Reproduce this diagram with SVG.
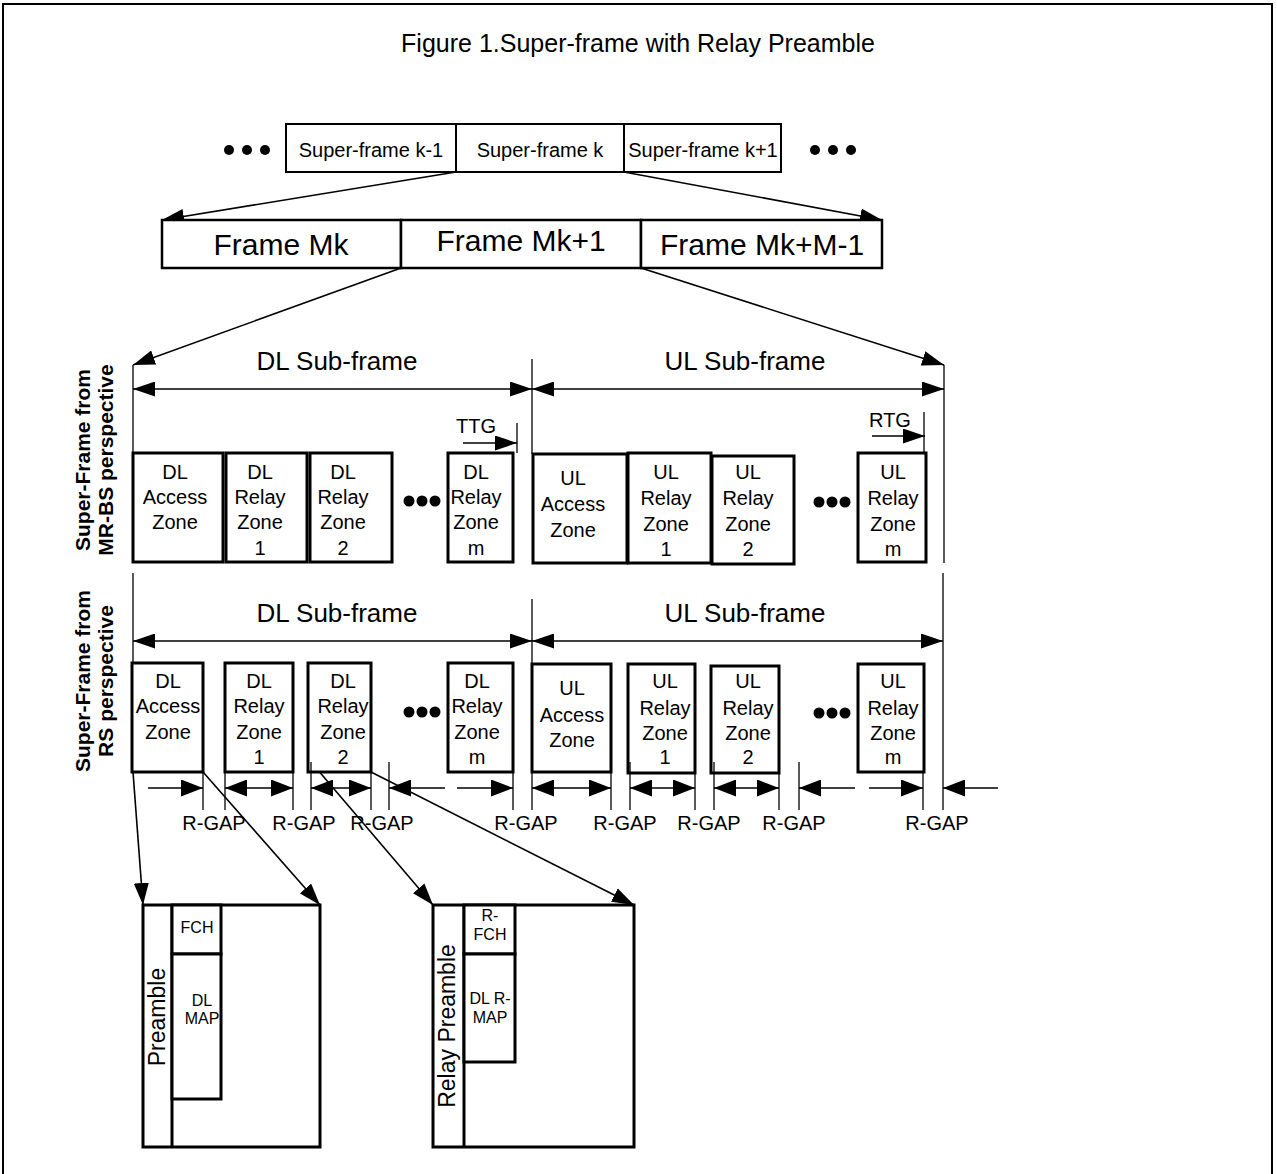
<svg xmlns="http://www.w3.org/2000/svg" width="1277" height="1174" viewBox="0 0 1277 1174">
<style>
text{font-family:"Liberation Sans",Arial,sans-serif;fill:#000}
.t20{font-size:20px;text-anchor:middle}
.t16{font-size:16px;text-anchor:middle}
.sub{font-size:26px;text-anchor:middle}
.frm{font-size:30px;text-anchor:middle}
.side{font-size:21px;font-weight:bold;text-anchor:middle}
.pre{font-size:23px;text-anchor:middle}
.sf{fill:#fff;stroke:#000;stroke-width:2}
.fr{fill:#fff;stroke:#000;stroke-width:2.5}
.zn{fill:#fff;stroke:#000;stroke-width:3}
.ln{fill:none;stroke:#000;stroke-width:1.3}
.dg{fill:none;stroke:#000;stroke-width:1.6}
.ar{marker-end:url(#a)}
.da{marker-start:url(#a);marker-end:url(#a)}
.ga{marker-end:url(#g)}
.gd{marker-start:url(#g);marker-end:url(#g)}
</style>
<defs>
<marker id="a" markerUnits="userSpaceOnUse" viewBox="0 0 22 15" markerWidth="22" markerHeight="15" refX="22" refY="7.5" orient="auto-start-reverse"><path d="M0,0 L22,7.5 L0,15z" fill="#000"/></marker>
<marker id="g" markerUnits="userSpaceOnUse" viewBox="0 0 22 17" markerWidth="22" markerHeight="17" refX="22" refY="8.5" orient="auto-start-reverse"><path d="M0,0 L22,8.5 L0,17z" fill="#000"/></marker>
</defs>
<rect x="0" y="0" width="1277" height="1174" fill="#fff"/>
<rect x="3" y="4" width="1269" height="1180" fill="none" stroke="#000" stroke-width="2"/>
<text x="638" y="52" style="font-size:25px;text-anchor:middle">Figure 1.Super-frame with Relay Preamble</text>

<g id="connectors">
<line class="dg ar" x1="456" y1="172" x2="162" y2="220"/>
<line class="dg ar" x1="624" y1="172" x2="882" y2="220"/>
<line class="dg ar" x1="401" y1="268" x2="133" y2="365"/>
<line class="dg ar" x1="641" y1="268" x2="944" y2="365"/>
<line class="dg ar" x1="133" y1="772" x2="143" y2="905"/>
<line class="dg ar" x1="203" y1="772" x2="320" y2="905"/>
<line class="dg ar" x1="311" y1="762" x2="433" y2="905"/>
<line class="dg ar" x1="371" y1="772" x2="634" y2="905"/>
</g>

<g id="superframes">
<g fill="#000"><circle cx="229" cy="150" r="5"/><circle cx="247" cy="150" r="5"/><circle cx="265" cy="150" r="5"/><circle cx="815" cy="150" r="5"/><circle cx="833" cy="150" r="5"/><circle cx="851" cy="150" r="5"/></g>
<g id="sf-k-1"><rect class="sf" x="286" y="124" width="170" height="48"/><text class="t20" x="371" y="157">Super-frame k-1</text></g>
<g id="sf-k"><rect class="sf" x="456" y="124" width="168" height="48"/><text class="t20" x="540" y="157">Super-frame k</text></g>
<g id="sf-k+1"><rect class="sf" x="624" y="124" width="157" height="48"/><text class="t20" x="703" y="157">Super-frame k+1</text></g>
</g>

<g id="frames">
<g id="fr-mk"><rect class="fr" x="162" y="220" width="239" height="48"/><text class="frm" x="281" y="255">Frame Mk</text></g>
<g id="fr-mk1"><rect class="fr" x="401" y="220" width="240" height="48"/><text class="frm" x="521" y="251">Frame Mk+1</text></g>
<g id="fr-mkm"><rect class="fr" x="641" y="220" width="241" height="48"/><text class="frm" x="762" y="255">Frame Mk+M-1</text></g>
</g>

<g id="mrbs">
<text class="side" transform="translate(90,460) rotate(-90)">Super-Frame from</text>
<text class="side" transform="translate(113,460) rotate(-90)">MR-BS perspective</text>
<text class="sub" x="337" y="370">DL Sub-frame</text>
<text class="sub" x="745" y="370">UL Sub-frame</text>
<line class="ln" x1="133" y1="365" x2="133" y2="453"/>
<line class="ln" x1="532" y1="359" x2="532" y2="454"/>
<line class="ln" x1="944" y1="365" x2="944" y2="563"/>
<line class="ln" x1="133" y1="573" x2="133" y2="663"/>
<line class="ln da" x1="133" y1="389" x2="532" y2="389"/>
<line class="ln da" x1="532" y1="389" x2="944" y2="389"/>
<text class="t20" x="476" y="433">TTG</text>
<line class="ln ar" x1="463" y1="443" x2="517" y2="443"/>
<line class="ln" x1="517" y1="423" x2="517" y2="453"/>
<text class="t20" x="890" y="427">RTG</text>
<line class="ln ar" x1="872" y1="436" x2="925" y2="436"/>
<line class="ln" x1="924" y1="412" x2="924" y2="453"/>
<g fill="#000"><circle cx="409" cy="501" r="5.5"/><circle cx="422" cy="501" r="5.5"/><circle cx="435" cy="501" r="5.5"/><circle cx="819" cy="502" r="5.5"/><circle cx="832" cy="502" r="5.5"/><circle cx="845" cy="502" r="5.5"/></g>
<g id="m-dla"><rect class="zn" x="133" y="453" width="90" height="109"/><text class="t20" x="175" y="479">DL</text><text class="t20" x="175" y="504">Access</text><text class="t20" x="175" y="529">Zone</text></g>
<g id="m-dlr1"><rect class="zn" x="226" y="453" width="81" height="109"/><text class="t20" x="260" y="479">DL</text><text class="t20" x="260" y="504">Relay</text><text class="t20" x="260" y="529">Zone</text><text class="t20" x="260" y="555">1</text></g>
<g id="m-dlr2"><rect class="zn" x="310" y="453" width="82" height="109"/><text class="t20" x="343" y="479">DL</text><text class="t20" x="343" y="504">Relay</text><text class="t20" x="343" y="529">Zone</text><text class="t20" x="343" y="555">2</text></g>
<g id="m-dlrm"><rect class="zn" x="448" y="453" width="65" height="109"/><text class="t20" x="476" y="479">DL</text><text class="t20" x="476" y="504">Relay</text><text class="t20" x="476" y="529">Zone</text><text class="t20" x="476" y="555">m</text></g>
<g id="m-ula"><rect class="zn" x="533" y="454" width="94" height="109"/><text class="t20" x="573" y="485">UL</text><text class="t20" x="573" y="511">Access</text><text class="t20" x="573" y="537">Zone</text></g>
<g id="m-ulr1"><rect class="zn" x="628" y="453" width="83" height="110"/><text class="t20" x="666" y="479">UL</text><text class="t20" x="666" y="505">Relay</text><text class="t20" x="666" y="531">Zone</text><text class="t20" x="666" y="556">1</text></g>
<g id="m-ulr2"><rect class="zn" x="712" y="456" width="82" height="108"/><text class="t20" x="748" y="479">UL</text><text class="t20" x="748" y="505">Relay</text><text class="t20" x="748" y="531">Zone</text><text class="t20" x="748" y="556">2</text></g>
<g id="m-ulrm"><rect class="zn" x="858" y="453" width="68" height="109"/><text class="t20" x="893" y="479">UL</text><text class="t20" x="893" y="505">Relay</text><text class="t20" x="893" y="531">Zone</text><text class="t20" x="893" y="556">m</text></g>
</g>

<g id="rs">
<text class="side" transform="translate(90,681) rotate(-90)">Super-Frame from</text>
<text class="side" transform="translate(113,681) rotate(-90)">RS perspective</text>
<text class="sub" x="337" y="622">DL Sub-frame</text>
<text class="sub" x="745" y="622">UL Sub-frame</text>
<line class="ln" x1="532" y1="599" x2="532" y2="664"/>
<line class="ln" x1="943" y1="573" x2="943" y2="810"/>
<line class="ln da" x1="133" y1="641" x2="532" y2="641"/>
<line class="ln da" x1="532" y1="641" x2="943" y2="641"/>
<g fill="#000"><circle cx="409" cy="712" r="5.5"/><circle cx="422" cy="712" r="5.5"/><circle cx="435" cy="712" r="5.5"/><circle cx="819" cy="713" r="5.5"/><circle cx="832" cy="713" r="5.5"/><circle cx="845" cy="713" r="5.5"/></g>
<g id="r-dla"><rect class="zn" x="132" y="663" width="71" height="109"/><text class="t20" x="168" y="688">DL</text><text class="t20" x="168" y="713">Access</text><text class="t20" x="168" y="739">Zone</text></g>
<g id="r-dlr1"><rect class="zn" x="225" y="663" width="68" height="109"/><text class="t20" x="259" y="688">DL</text><text class="t20" x="259" y="713">Relay</text><text class="t20" x="259" y="739">Zone</text><text class="t20" x="259" y="764">1</text></g>
<g id="r-dlr2"><rect class="zn" x="308" y="663" width="63" height="109"/><text class="t20" x="343" y="688">DL</text><text class="t20" x="343" y="713">Relay</text><text class="t20" x="343" y="739">Zone</text><text class="t20" x="343" y="764">2</text></g>
<g id="r-dlrm"><rect class="zn" x="448" y="663" width="65" height="109"/><text class="t20" x="477" y="688">DL</text><text class="t20" x="477" y="713">Relay</text><text class="t20" x="477" y="739">Zone</text><text class="t20" x="477" y="764">m</text></g>
<g id="r-ula"><rect class="zn" x="532" y="664" width="79" height="108"/><text class="t20" x="572" y="695">UL</text><text class="t20" x="572" y="722">Access</text><text class="t20" x="572" y="747">Zone</text></g>
<g id="r-ulr1"><rect class="zn" x="628" y="664" width="67" height="109"/><text class="t20" x="665" y="688">UL</text><text class="t20" x="665" y="715">Relay</text><text class="t20" x="665" y="740">Zone</text><text class="t20" x="665" y="764">1</text></g>
<g id="r-ulr2"><rect class="zn" x="711" y="666" width="68" height="107"/><text class="t20" x="748" y="688">UL</text><text class="t20" x="748" y="715">Relay</text><text class="t20" x="748" y="740">Zone</text><text class="t20" x="748" y="764">2</text></g>
<g id="r-ulrm"><rect class="zn" x="858" y="664" width="66" height="108"/><text class="t20" x="893" y="688">UL</text><text class="t20" x="893" y="715">Relay</text><text class="t20" x="893" y="740">Zone</text><text class="t20" x="893" y="764">m</text></g>
</g>

<g id="rgaps">
<g class="ln">
<line x1="203" y1="772" x2="203" y2="810"/>
<line x1="225" y1="772" x2="225" y2="810"/>
<line x1="293" y1="772" x2="293" y2="810"/>
<line x1="311" y1="762" x2="311" y2="810"/>
<line x1="371" y1="772" x2="371" y2="810"/>
<line x1="389" y1="762" x2="389" y2="810"/>
<line x1="513" y1="772" x2="513" y2="810"/>
<line x1="532" y1="772" x2="532" y2="810"/>
<line x1="611" y1="772" x2="611" y2="810"/>
<line x1="630" y1="762" x2="630" y2="810"/>
<line x1="695" y1="772" x2="695" y2="810"/>
<line x1="714" y1="762" x2="714" y2="810"/>
<line x1="779" y1="772" x2="779" y2="810"/>
<line x1="799" y1="762" x2="799" y2="810"/>
<line x1="923" y1="772" x2="923" y2="810"/>
</g>
<line class="ln ga" x1="148" y1="788" x2="203" y2="788"/>
<line class="ln gd" x1="225" y1="788" x2="293" y2="788"/>
<line class="ln gd" x1="311" y1="788" x2="371" y2="788"/>
<line class="ln ga" x1="445" y1="788" x2="389" y2="788"/>
<line class="ln ga" x1="457" y1="788" x2="513" y2="788"/>
<line class="ln gd" x1="532" y1="788" x2="611" y2="788"/>
<line class="ln gd" x1="630" y1="788" x2="695" y2="788"/>
<line class="ln gd" x1="714" y1="788" x2="779" y2="788"/>
<line class="ln ga" x1="855" y1="788" x2="799" y2="788"/>
<line class="ln ga" x1="869" y1="788" x2="923" y2="788"/>
<line class="ln ga" x1="998" y1="788" x2="943" y2="788"/>
<text class="t20" x="214" y="830">R-GAP</text>
<text class="t20" x="304" y="830">R-GAP</text>
<text class="t20" x="382" y="830">R-GAP</text>
<text class="t20" x="526" y="830">R-GAP</text>
<text class="t20" x="625" y="830">R-GAP</text>
<text class="t20" x="709" y="830">R-GAP</text>
<text class="t20" x="794" y="830">R-GAP</text>
<text class="t20" x="937" y="830">R-GAP</text>
</g>

<g id="preamble-frame">
<rect class="zn" x="143" y="905" width="177" height="242"/>
<line x1="172" y1="905" x2="172" y2="1147" stroke="#000" stroke-width="3"/>
<rect class="zn" x="172" y="905" width="49" height="49"/>
<rect class="zn" x="172" y="954" width="49" height="145"/>
<text class="pre" transform="translate(165,1017) rotate(-90)">Preamble</text>
<text class="t16" x="197" y="933">FCH</text>
<text class="t16" x="202" y="1006">DL</text>
<text class="t16" x="202" y="1024">MAP</text>
</g>

<g id="relay-preamble-frame">
<rect class="zn" x="433" y="905" width="201" height="242"/>
<line x1="464" y1="905" x2="464" y2="1147" stroke="#000" stroke-width="3"/>
<rect class="zn" x="464" y="905" width="51" height="49"/>
<rect class="zn" x="464" y="954" width="51" height="108"/>
<text class="pre" transform="translate(455,1026) rotate(-90)">Relay Preamble</text>
<text class="t16" x="490" y="921">R-</text>
<text class="t16" x="490" y="940">FCH</text>
<text class="t16" x="490" y="1004">DL R-</text>
<text class="t16" x="490" y="1023">MAP</text>
</g>
</svg>
